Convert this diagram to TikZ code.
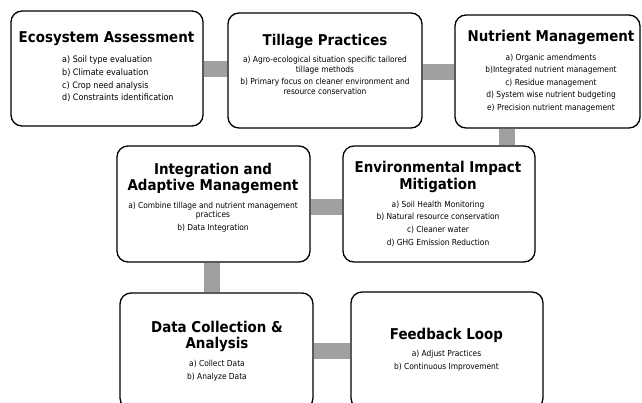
\documentclass[tikz,border=0pt]{standalone}
\usepackage{fontspec}
\setmainfont{DejaVu Sans Condensed}
\usetikzlibrary{backgrounds}

\definecolor{linkgray}{RGB}{160,160,160}

\tikzset{
  box/.style={draw=black, line width=1.3pt, rounded corners=11pt, fill=white,
              inner sep=0pt},
  ttl/.style={inner sep=0pt, align=center, font=\bfseries\fontsize{14.9}{16.5}\selectfont},
  itm/.style={inner sep=0pt, align=center, font=\fontsize{8.3}{9.4}\selectfont},
  link/.style={draw=linkgray, line width=16pt, line cap=butt},
}

\begin{document}
\begin{tikzpicture}[x=1pt, y=-1pt]
\useasboundingbox (0,0) rectangle (642,402);

% boxes
\node[box, minimum width=192pt, minimum height=115pt] (eco)   at (107,68.5)   {};
\node[box, minimum width=194pt, minimum height=115pt] (till)  at (325,70.5)   {};
\node[box, minimum width=185pt, minimum height=113pt] (nut)   at (547.5,71.5) {};
\node[box, minimum width=193pt, minimum height=116pt] (integ) at (213.5,204)  {};
\node[box, minimum width=192pt, minimum height=116pt] (env)   at (439,204)    {};
\node[box, minimum width=193pt, minimum height=116pt] (data)  at (216.5,351)  {};
\node[box, minimum width=192pt, minimum height=117pt] (feed)  at (447,350.5)  {};

% connecting bars, behind the boxes
\begin{pgfonlayer}{background}
  \draw[link] (eco.east) -- (eco.east -| till.west);
  \draw[link] ([yshift=-1pt]till.east) -- ([yshift=-1pt]till.east -| nut.west);
  \draw[link] ([xshift=-41pt]nut.south) -- ([xshift=-41pt]nut.south |- env.north);
  \draw[link] ([yshift=-2.5pt]integ.east) -- ([yshift=-2.5pt]integ.east -| env.west);
  \draw[link] ([xshift=-2pt]integ.south) -- ([xshift=-2pt]integ.south |- data.north);
  \draw[link] (data.east) -- (data.east -| feed.west);
\end{pgfonlayer}

% Ecosystem Assessment
\node[ttl] (ecoT) at (106.5,39) {Ecosystem Assessment};
\node[itm, align=left, anchor=west, font=\fontsize{8.9}{9.4}\selectfont] (ecoI) at (62,79)
  {a) Soil type evaluation\\[3.2pt] b) Climate evaluation\\[3.2pt]
   c) Crop need analysis\\[3.2pt] d) Constraints identification};

% Tillage Practices
\node[ttl] (tillT) at (325,41) {Tillage Practices};
\node[itm] (tillI) at (325,75.5)
  {a) Agro-ecological situation specific tailored\\ tillage methods\\[3.2pt]
   b) Primary focus on cleaner environment and\\ resource conservation};

% Nutrient Management
\node[ttl] (nutT) at (551,37) {Nutrient Management};
\node[itm] (nutI) at (551,83)
  {a) Organic amendments\\[3.2pt] b)Integrated nutrient management\\[3.2pt]
   c) Residue management\\[3.2pt] d) System wise nutrient budgeting\\[3.2pt]
   e) Precision nutrient management};

% Integration and Adaptive Management
\node[ttl] (integT) at (213,178.5) {Integration and\\ Adaptive Management};
\node[itm] (integI) at (213,217)
  {a) Combine tillage and nutrient management\\ practices\\[3.2pt] b) Data Integration};

% Environmental Impact Mitigation
\node[ttl] (envT) at (438,177) {Environmental Impact\\ Mitigation};
\node[itm] (envI) at (438,223.5)
  {a) Soil Health Monitoring\\[3.2pt] b) Natural resource conservation\\[3.2pt]
   c) Cleaner water\\[3.2pt] d) GHG Emission Reduction};

% Data Collection & Analysis
\node[ttl] (dataT) at (217,336.5) {Data Collection \&\\ Analysis};
\node[itm] (dataI) at (217,370.5) {a) Collect Data\\[3.2pt] b) Analyze Data};

% Feedback Loop
\node[ttl] (feedT) at (446.5,335) {Feedback Loop};
\node[itm] (feedI) at (446.5,360.5) {a) Adjust Practices\\[3.2pt] b) Continuous Improvement};
\end{tikzpicture}
\end{document}
